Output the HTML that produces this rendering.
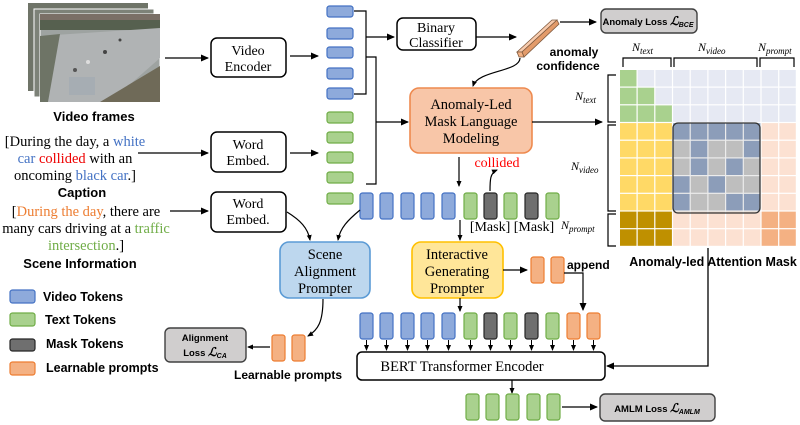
<!DOCTYPE html>
<html><head><meta charset="utf-8">
<style>
html,body{margin:0;padding:0;background:#fff;}
svg{display:block;}
.s{font-family:"Liberation Serif",serif;}
.b{font-family:"Liberation Sans",sans-serif;font-weight:bold;}
</style></head><body>
<svg id="svg" width="800" height="425" viewBox="0 0 800 425" xmlns="http://www.w3.org/2000/svg">
<defs>
<marker id="a" markerWidth="8" markerHeight="8" refX="7" refY="4" orient="auto" markerUnits="userSpaceOnUse"><path d="M0,0.5 L8,4 L0,7.5z" fill="#000"/></marker>
<marker id="sa" markerWidth="6" markerHeight="6" refX="5" refY="3" orient="auto" markerUnits="userSpaceOnUse"><path d="M0,0.5 L6,3 L0,5.5z" fill="#000"/></marker>
</defs>
<!-- video frames -->
<rect x="28" y="3" width="120" height="88" fill="#6f7468"/>
<rect x="34" y="9" width="120" height="88" fill="#7d8278" stroke="#fff" stroke-width="1"/>
<rect x="40" y="14" width="120" height="88" fill="#9ea3a1" stroke="#fff" stroke-width="1"/>
<rect x="40" y="14" width="120" height="16" fill="#56604f"/>
<rect x="40" y="14" width="120" height="6" fill="#7a6f66"/>
<path d="M40,36 L160,28 L160,58 L110,102 L40,102z" fill="#b0b3b4"/>
<path d="M40,36 L60,34 L48,102 L40,102z" fill="#6e7466"/>
<rect x="69" y="77" width="26" height="18" fill="#a6adb3"/>
<path d="M100,102 L160,66 L160,102z" fill="#6f6a58"/>
<circle cx="105" cy="52" r="2" fill="#444"/><circle cx="88" cy="62" r="2" fill="#ddd"/><circle cx="120" cy="40" r="1.5" fill="#444"/><circle cx="75" cy="70" r="2" fill="#555"/>
<text x="94" y="121" class="b" font-size="13" text-anchor="middle">Video frames</text>
<line x1="165" y1="58" x2="208" y2="58" stroke="#000" stroke-width="1.3" marker-end="url(#a)"/>
<rect x="211" y="38" width="75" height="39" rx="6" fill="#fff" stroke="#000" stroke-width="1.5"/>
<text x="248" y="55" class="s" font-size="14" text-anchor="middle">Video</text>
<text x="248" y="71" class="s" font-size="14" text-anchor="middle">Encoder</text>
<line x1="290" y1="56" x2="318" y2="56" stroke="#000" stroke-width="1.3" marker-end="url(#a)"/>

<!-- caption -->
<g class="s" font-size="14.5" text-anchor="middle">
<text x="75" y="146">[During the day, a <tspan fill="#4472c4">white</tspan></text>
<text x="75" y="163"><tspan fill="#4472c4">car</tspan> <tspan fill="#e00">collided</tspan> with an</text>
<text x="75" y="180">oncoming <tspan fill="#4472c4">black car</tspan>.]</text>
<text x="86" y="216">[<tspan fill="#ed7d31">During the day</tspan>, there are</text>
<text x="86" y="233">many cars driving at a <tspan fill="#70ad47">traffic</tspan></text>
<text x="86" y="250"><tspan fill="#70ad47">intersection</tspan>.]</text>
</g>
<text x="82" y="197" class="b" font-size="13" text-anchor="middle">Caption</text>
<text x="80" y="268" class="b" font-size="13" text-anchor="middle">Scene Information</text>
<line x1="138" y1="153" x2="208" y2="153" stroke="#000" stroke-width="1.3" marker-end="url(#a)"/>
<line x1="170" y1="211" x2="208" y2="211" stroke="#000" stroke-width="1.3" marker-end="url(#a)"/>
<rect x="211" y="132" width="75" height="40" rx="6" fill="#fff" stroke="#000" stroke-width="1.5"/>
<text x="248" y="149" class="s" font-size="14" text-anchor="middle">Word</text>
<text x="248" y="165" class="s" font-size="14" text-anchor="middle">Embed.</text>
<rect x="211" y="192" width="75" height="40" rx="6" fill="#fff" stroke="#000" stroke-width="1.5"/>
<text x="248" y="208" class="s" font-size="14" text-anchor="middle">Word</text>
<text x="248" y="224" class="s" font-size="14" text-anchor="middle">Embed.</text>
<line x1="290" y1="153" x2="318" y2="153" stroke="#000" stroke-width="1.3" marker-end="url(#a)"/>

<!-- token column -->
<g stroke-width="1.2">
<rect x="327" y="6" width="26" height="11" rx="2.5" fill="#8eaadb" stroke="#4472c4"/>
<rect x="327" y="28" width="26" height="11" rx="2.5" fill="#8eaadb" stroke="#4472c4"/>
<rect x="327" y="47" width="26" height="11" rx="2.5" fill="#8eaadb" stroke="#4472c4"/>
<rect x="327" y="68" width="26" height="11" rx="2.5" fill="#8eaadb" stroke="#4472c4"/>
<rect x="327" y="88" width="26" height="11" rx="2.5" fill="#8eaadb" stroke="#4472c4"/>
<rect x="327" y="112" width="26" height="11" rx="2.5" fill="#a9d18e" stroke="#70ad47"/>
<rect x="327" y="132" width="26" height="11" rx="2.5" fill="#a9d18e" stroke="#70ad47"/>
<rect x="327" y="152" width="26" height="11" rx="2.5" fill="#a9d18e" stroke="#70ad47"/>
<rect x="327" y="172" width="26" height="11" rx="2.5" fill="#a9d18e" stroke="#70ad47"/>
<rect x="327" y="193" width="26" height="11" rx="2.5" fill="#a9d18e" stroke="#70ad47"/>
</g>
<path d="M354,11 H366 V94 H354" fill="none" stroke="#000" stroke-width="1.2"/>
<line x1="366" y1="37" x2="394" y2="37" stroke="#000" stroke-width="1.3" marker-end="url(#a)"/>
<path d="M366,57 H376 V184 H366" fill="none" stroke="#000" stroke-width="1.2"/>
<line x1="376" y1="122" x2="408" y2="122" stroke="#000" stroke-width="1.3" marker-end="url(#a)"/>

<rect x="397" y="18" width="79" height="32" rx="6" fill="#fff" stroke="#000" stroke-width="1.5"/>
<text x="436" y="32" class="s" font-size="14" text-anchor="middle">Binary</text>
<text x="436" y="47" class="s" font-size="14" text-anchor="middle">Classifier</text>
<line x1="476" y1="37" x2="516" y2="37" stroke="#000" stroke-width="1.3" marker-end="url(#a)"/>
<!-- confidence bar -->
<path d="M517,52 L552,20 L557,20 L522,52z" fill="#f8cbad" stroke="#7f5a3f" stroke-width="0.8"/>
<path d="M557,20 L559,24 L524,57 L522,52z" fill="#e39b6a" stroke="#7f5a3f" stroke-width="0.8"/>
<path d="M517,52 L522,52 L524,57 L519,57z" fill="#f4b183" stroke="#7f5a3f" stroke-width="0.8"/>
<line x1="560" y1="22" x2="596" y2="22" stroke="#000" stroke-width="1.3" marker-end="url(#a)"/>
<text x="574" y="56" class="b" font-size="12" text-anchor="middle">anomaly</text>
<text x="568" y="70" class="b" font-size="12" text-anchor="middle">confidence</text>
<path d="M520,58 C520,72 478,70 473,86" fill="none" stroke="#000" stroke-width="1.2" marker-end="url(#sa)"/>
<rect x="601" y="9" width="96" height="24" rx="5" fill="#d0cece" stroke="#404040" stroke-width="1.4"/>
<text x="648" y="25" class="b" font-size="9.5" text-anchor="middle">Anomaly Loss <tspan font-family="Liberation Serif" font-style="italic" font-size="12">ℒ</tspan><tspan font-size="7" dy="2" font-style="italic">BCE</tspan></text>

<!-- AMLM -->
<rect x="410" y="88" width="122" height="65" rx="9" fill="#f8c6a8" stroke="#ee8a4f" stroke-width="1.6"/>
<text x="471" y="109" class="s" font-size="14.5" text-anchor="middle">Anomaly-Led</text>
<text x="471" y="126" class="s" font-size="14.5" text-anchor="middle">Mask Language</text>
<text x="471" y="143" class="s" font-size="14.5" text-anchor="middle">Modeling</text>
<line x1="532" y1="122" x2="602" y2="122" stroke="#000" stroke-width="1.3" marker-end="url(#a)"/>
<line x1="459" y1="157" x2="459" y2="186" stroke="#000" stroke-width="1.2" marker-end="url(#sa)"/>
<text x="497" y="167" class="s" font-size="14" fill="#f00" text-anchor="middle">collided</text>
<path d="M490,191 C490,180 490,173 497,170" fill="none" stroke="#000" stroke-width="1.2" marker-end="url(#sa)"/>

<g id="row1"></g>
<text x="512" y="231" class="s" font-size="14" text-anchor="middle">[Mask] [Mask]</text>
<line x1="460" y1="220" x2="460" y2="240" stroke="#000" stroke-width="1.2" marker-end="url(#sa)"/>

<!-- SAP -->
<path d="M287,212 C300,220 308,228 310,240" fill="none" stroke="#000" stroke-width="1.2" marker-end="url(#sa)"/>
<path d="M360,210 C348,220 340,228 338,240" fill="none" stroke="#000" stroke-width="1.2" marker-end="url(#sa)"/>
<rect x="280" y="242" width="90" height="56" rx="9" fill="#bdd7ee" stroke="#5b9bd5" stroke-width="1.6"/>
<text x="325" y="259" class="s" font-size="14.5" text-anchor="middle">Scene</text>
<text x="325" y="276" class="s" font-size="14.5" text-anchor="middle">Alignment</text>
<text x="325" y="293" class="s" font-size="14.5" text-anchor="middle">Prompter</text>
<path d="M323,299 C323,322 318,330 308,336" fill="none" stroke="#000" stroke-width="1.2" marker-end="url(#sa)"/>
<rect x="272" y="335" width="13" height="26" rx="2.5" fill="#f4b183" stroke="#ed7d31" stroke-width="1.2"/>
<rect x="292" y="335" width="13" height="26" rx="2.5" fill="#f4b183" stroke="#ed7d31" stroke-width="1.2"/>
<line x1="270" y1="347" x2="248" y2="347" stroke="#000" stroke-width="1.2" marker-end="url(#sa)"/>
<rect x="165" y="328" width="81" height="34" rx="5" fill="#d0cece" stroke="#404040" stroke-width="1.4"/>
<text x="205" y="341" class="b" font-size="9.5" text-anchor="middle">Alignment</text>
<text x="205" y="356" class="b" font-size="9.5" text-anchor="middle">Loss <tspan font-family="Liberation Serif" font-style="italic" font-size="12">ℒ</tspan><tspan font-size="7" dy="2" font-style="italic">CA</tspan></text>
<text x="288" y="379" class="b" font-size="12" text-anchor="middle">Learnable prompts</text>

<!-- IGP -->
<rect x="412" y="242" width="91" height="56" rx="9" fill="#ffe699" stroke="#ffc000" stroke-width="1.6"/>
<text x="457" y="259" class="s" font-size="14.5" text-anchor="middle">Interactive</text>
<text x="457" y="276" class="s" font-size="14.5" text-anchor="middle">Generating</text>
<text x="457" y="293" class="s" font-size="14.5" text-anchor="middle">Prompter</text>
<line x1="503" y1="270" x2="527" y2="270" stroke="#000" stroke-width="1.3" marker-end="url(#a)"/>
<rect x="531" y="257" width="13" height="26" rx="2.5" fill="#f4b183" stroke="#ed7d31" stroke-width="1.2"/>
<rect x="551" y="257" width="13" height="26" rx="2.5" fill="#f4b183" stroke="#ed7d31" stroke-width="1.2"/>
<text x="567" y="269" class="b" font-size="12">append</text>
<path d="M564,273 H583 V310" fill="none" stroke="#000" stroke-width="1.2" marker-end="url(#a)"/>
<line x1="460" y1="298" x2="460" y2="311" stroke="#000" stroke-width="1.2" marker-end="url(#sa)"/>
<g id="row2"></g>

<!-- BERT -->
<rect x="357" y="352" width="248" height="28" rx="5" fill="#fff" stroke="#000" stroke-width="1.5"/>
<text x="462" y="371" class="s" font-size="14.5" text-anchor="middle">BERT Transformer Encoder</text>
<path d="M708,248 V366 H607" fill="none" stroke="#000" stroke-width="1.3" marker-end="url(#a)"/>
<line x1="512" y1="380" x2="512" y2="393" stroke="#000" stroke-width="1.2" marker-end="url(#sa)"/>
<g stroke-width="1.2" fill="#a9d18e" stroke="#70ad47">
<rect x="466" y="394" width="13" height="26" rx="2.5"/>
<rect x="486" y="394" width="13" height="26" rx="2.5"/>
<rect x="506" y="394" width="13" height="26" rx="2.5"/>
<rect x="527" y="394" width="13" height="26" rx="2.5"/>
<rect x="547" y="394" width="13" height="26" rx="2.5"/>
</g>
<line x1="562" y1="407" x2="597" y2="407" stroke="#000" stroke-width="1.3" marker-end="url(#a)"/>
<rect x="600" y="394" width="115" height="27" rx="5" fill="#d0cece" stroke="#404040" stroke-width="1.4"/>
<text x="657" y="412" class="b" font-size="9.5" text-anchor="middle">AMLM Loss <tspan font-family="Liberation Serif" font-style="italic" font-size="12">ℒ</tspan><tspan font-size="7" dy="2" font-style="italic">AMLM</tspan></text>

<!-- legend -->
<g stroke-width="1.2">
<rect x="10" y="290" width="25" height="13" rx="2.5" fill="#8eaadb" stroke="#4472c4"/>
<rect x="10" y="313" width="25" height="13" rx="2.5" fill="#a9d18e" stroke="#70ad47"/>
<rect x="10" y="339" width="25" height="12" rx="2.5" fill="#6f6f6f" stroke="#262626"/>
<rect x="10" y="362" width="25" height="13" rx="2.5" fill="#f4b183" stroke="#ed7d31"/>
</g>
<g class="b" font-size="12.5">
<text x="43" y="301">Video Tokens</text>
<text x="45" y="324">Text Tokens</text>
<text x="46" y="348">Mask Tokens</text>
<text x="46" y="372">Learnable prompts</text>
</g>

<!-- matrix -->
<g id="mat"></g>
<rect x="673" y="123" width="87" height="90" rx="5" fill="#808080" fill-opacity="0.15" stroke="#333" stroke-width="1.3"/>
<g class="s" font-style="italic" font-size="12">
<text x="632" y="51">N<tspan font-size="9" dy="3">text</tspan></text>
<text x="698" y="51">N<tspan font-size="9" dy="3">video</tspan></text>
<text x="758" y="51">N<tspan font-size="9" dy="3">prompt</tspan></text>
<text x="575" y="100">N<tspan font-size="9" dy="3">text</tspan></text>
<text x="571" y="170">N<tspan font-size="9" dy="3">video</tspan></text>
<text x="561" y="229">N<tspan font-size="9" dy="3">prompt</tspan></text>
</g>
<g fill="none" stroke="#000" stroke-width="1.2">
<path d="M623,67 V58 H671 V67"/>
<path d="M674,67 V58 H757 V67"/>
<path d="M760,67 V58 H794 V67"/>
<path d="M616,75 H608 V122 H616"/>
<path d="M616,125 H608 V211 H616"/>
<path d="M616,214 H608 V246 H616"/>
</g>
<text x="713" y="266" class="b" font-size="12.5" text-anchor="middle">Anomaly-led Attention Mask</text>
</svg>
<script>
var NS="http://www.w3.org/2000/svg";
function r(p,a){var e=document.createElementNS(NS,"rect");for(var k in a)e.setAttribute(k,a[k]);p.appendChild(e);}
var C={b:["#8eaadb","#4472c4"],g:["#a9d18e","#70ad47"],k:["#6f6f6f","#262626"],o:["#f4b183","#ed7d31"]};
var xs=[360,380,401,421,442,464,484,504,525,546,567,587];
var t1="bbbbbgkgkg",t2="bbbbbgkgkgoo";
var g1=document.getElementById("row1"),g2=document.getElementById("row2");
for(var i=0;i<t1.length;i++){var c=C[t1[i]];r(g1,{x:xs[i],y:193,width:13,height:26,rx:2.5,fill:c[0],stroke:c[1],"stroke-width":1.2});}
for(var i=0;i<t2.length;i++){var c=C[t2[i]];r(g2,{x:xs[i],y:313,width:13,height:26,rx:2.5,fill:c[0],stroke:c[1],"stroke-width":1.2});
 var l=document.createElementNS(NS,"line");l.setAttribute("x1",xs[i]+6.5);l.setAttribute("x2",xs[i]+6.5);l.setAttribute("y1",340);l.setAttribute("y2",350);l.setAttribute("stroke","#000");l.setAttribute("stroke-width",1);l.setAttribute("marker-end","url(#sa)");g2.appendChild(l);}
var cx=[620,637.7,655.4,673.1,690.8,708.5,726.2,743.9,761.6,779.3],cy=[70,87.7,105.4,123.1,140.8,158.5,176.2,193.9,211.6,229.3];
var G="#a9d18e",L="#e6e9f3",Y="#ffd966",P="#fce1d2",O="#f4b183",D="#bf9000",B="#8fa3c4",S="#c9c9c9";
var vid=["BBBBB","SBSSB","SBSBS","BSBSS","BSSBB"];
var m=document.getElementById("mat");
for(var i=0;i<10;i++)for(var j=0;j<10;j++){var f;
 if(i<3){f=(j<=i)?G:L;}
 else if(i<8){if(j<3)f=Y;else if(j<8)f=vid[i-3][j-3]=="B"?B:S;else f=P;}
 else {if(j<3)f=D;else if(j<8)f=P;else f=O;}
 r(m,{x:cx[j],y:cy[i],width:16.5,height:16.5,fill:f});}
</script>
</body></html>
